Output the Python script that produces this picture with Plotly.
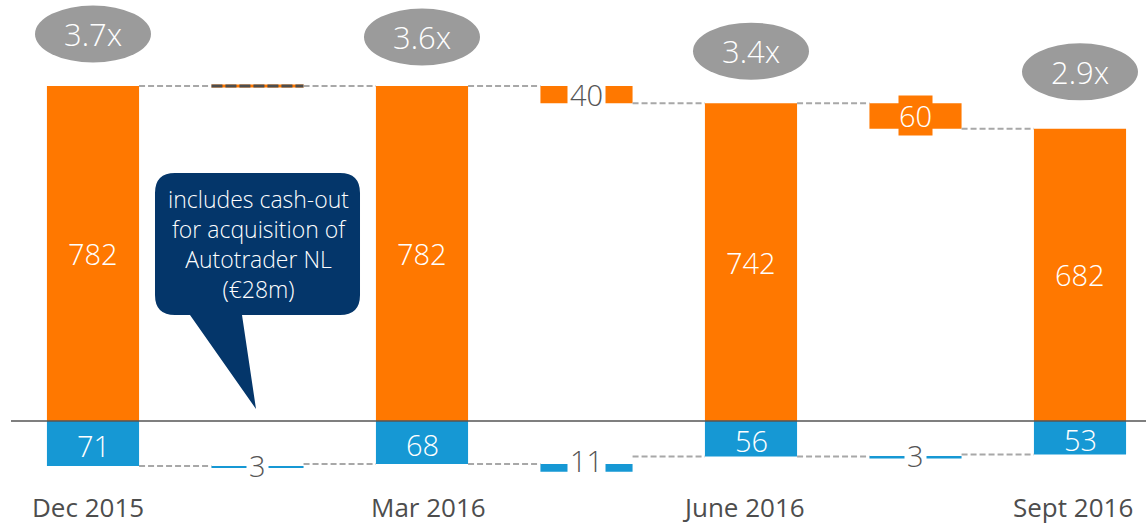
import plotly.graph_objects as go

# ---- data ----
periods = ["Dec 2015", "Mar 2016", "June 2016", "Sept 2016"]
orange_totals = [782, 782, 742, 682]
orange_change_labels = ["", "40", "60"]
blue_totals = [71, 68, 56, 53]
blue_change_labels = ["3", "11", "3"]
ratios = ["3.7x", "3.6x", "3.4x", "2.9x"]
callout_text = "includes cash-out<br>for acquisition of<br>Autotrader NL<br>(€28m)"

ORANGE = "#FF7800"
BLUE = "#1698D4"
NAVY = "#04366A"
GRAYE = "#9B9B9B"
DASH = "#A8A8A8"
TXT = "#555555"
FONT = "Open Sans Light, Open Sans"
FONT_REG = "Open Sans"

W, H = 1146, 525
BW = 0.56

tot_x = [0, 2, 4, 6]
chg_x = [1, 3, 5]
label_xshift = [-5, 6, -8, -7]
ellipse_dy = [52, 49, 52, 57]

fig = go.Figure()

# orange totals
fig.add_trace(go.Bar(x=tot_x, y=orange_totals, base=0, width=BW, marker_color=ORANGE,
                     marker_line_width=0, yaxis="y", hoverinfo="skip"))
# orange changes
o_base = [orange_totals[i + 1] for i in range(3)]
o_h = [orange_totals[i] - orange_totals[i + 1] for i in range(3)]
fig.add_trace(go.Bar(x=chg_x, y=o_h, base=o_base, width=BW, marker_color=ORANGE,
                     marker_line_width=0, yaxis="y", hoverinfo="skip"))
# blue totals (drawn downward)
fig.add_trace(go.Bar(x=tot_x, y=[-v for v in blue_totals], base=0, width=BW, marker_color=BLUE,
                     marker_line_width=0, yaxis="y2", hoverinfo="skip"))
# blue changes
b_h = [-(blue_totals[i] - blue_totals[i + 1]) for i in range(3)]
fig.add_trace(go.Bar(x=chg_x, y=b_h, base=[-blue_totals[i] for i in range(3)], width=BW,
                     marker_color=BLUE, marker_line_width=0, yaxis="y2", hoverinfo="skip"))

# zero-height orange change -> dashed marker line
for i, h in enumerate(o_h):
    if h == 0:
        xs = [chg_x[i] - BW / 2, chg_x[i] + BW / 2]
        ys = [orange_totals[i]] * 2
        fig.add_trace(go.Scatter(x=xs, y=ys, mode="lines", line=dict(color=ORANGE, width=3),
                                 yaxis="y", hoverinfo="skip", showlegend=False))
        fig.add_trace(go.Scatter(x=xs, y=ys, mode="lines",
                                 line=dict(color="#4D4D4D", width=3, dash="11px,3px"),
                                 yaxis="y", hoverinfo="skip", showlegend=False))

# connectors
def connectors(totals):
    xs, ys = [], []
    for j in range(6):
        lvl = totals[j // 2] if j % 2 == 0 else totals[j // 2 + 1]
        xs += [j + BW / 2, j + 1 - BW / 2, None]
        ys += [lvl, lvl, None]
    return xs, ys

cx, cy = connectors(orange_totals)
fig.add_trace(go.Scatter(x=cx, y=cy, mode="lines", line=dict(color=DASH, width=2, dash="6px,3px"),
                         yaxis="y", hoverinfo="skip", showlegend=False))
cx, cy = connectors(blue_totals)
fig.add_trace(go.Scatter(x=cx, y=[None if v is None else -v for v in cy], mode="lines",
                         line=dict(color=DASH, width=2, dash="6px,3px"),
                         yaxis="y2", hoverinfo="skip", showlegend=False))

annotations = []
shapes = []
LBL = 29

# total labels
for i in range(4):
    annotations.append(dict(x=tot_x[i], y=orange_totals[i] / 2, xref="x", yref="y",
                            text=str(orange_totals[i]), showarrow=False,
                            font=dict(color="white", size=LBL, family=FONT, weight=300)))
    annotations.append(dict(x=tot_x[i], y=-blue_totals[i] / 2, xref="x", yref="y2", yshift=-2,
                            text=str(blue_totals[i]), showarrow=False,
                            font=dict(color="white", size=LBL, family=FONT, weight=300)))

# change labels
for i, lab in enumerate(orange_change_labels):
    if not lab:
        continue
    mid = (orange_totals[i] + orange_totals[i + 1]) / 2
    if i == 1:
        annotations.append(dict(x=chg_x[i], y=mid, xref="x", yref="y", text=lab, showarrow=False,
                                font=dict(color=TXT, size=LBL, family=FONT, weight=300),
                                bgcolor="white", borderpad=2))
    else:
        annotations.append(dict(x=chg_x[i], y=mid, xref="x", yref="y", text=lab, showarrow=False,
                                font=dict(color="white", size=LBL, family=FONT, weight=300),
                                bgcolor=ORANGE, borderpad=0))
for i, lab in enumerate(blue_change_labels):
    mid = -(blue_totals[i] + blue_totals[i + 1]) / 2
    annotations.append(dict(x=chg_x[i], y=mid, xref="x", yref="y2", text=lab, showarrow=False,
                            font=dict(color=TXT, size=LBL, family=FONT, weight=300),
                            bgcolor="white", borderpad=2))

# ratio ellipses
for i, r in enumerate(ratios):
    d = ellipse_dy[i]
    shapes.append(dict(type="circle", xref="x", yref="y", xsizemode="pixel", ysizemode="pixel",
                       xanchor=tot_x[i], yanchor=orange_totals[i], x0=-58, x1=58,
                       y0=d - 28.5, y1=d + 28.5, fillcolor=GRAYE, line_width=0, layer="above"))
    annotations.append(dict(x=tot_x[i], y=orange_totals[i], xref="x", yref="y", yshift=d,
                            text=r, showarrow=False,
                            font=dict(color="white", size=31, family=FONT, weight=300)))

# category labels
for i, p in enumerate(periods):
    annotations.append(dict(x=tot_x[i], y=1 - 507 / H, xref="x", yref="paper",
                            xshift=label_xshift[i],
                            text=p, showarrow=False, xanchor="center", yanchor="middle",
                            font=dict(color="#4D4D4D", size=26, family=FONT_REG)))

# zero line
shapes.append(dict(type="line", xref="paper", yref="y", x0=11 / W, x1=1, y0=0, y1=0,
                   line=dict(color="#555555", width=1.5), layer="above"))

# callout bubble (pixel geometry -> paper)
def P(px, py):
    return f"{px / W:.5f},{1 - py / H:.5f}"

x0, x1, y0, y1, r = 155, 360, 173, 315, 20
path = (f"M {P(x0 + r, y0)} L {P(x1 - r, y0)} Q {P(x1, y0)} {P(x1, y0 + r)} "
        f"L {P(x1, y1 - r)} Q {P(x1, y1)} {P(x1 - r, y1)} "
        f"L {P(242, y1)} L {P(256, 409)} L {P(190, y1)} "
        f"L {P(x0 + r, y1)} Q {P(x0, y1)} {P(x0, y1 - r)} "
        f"L {P(x0, y0 + r)} Q {P(x0, y0)} {P(x0 + r, y0)} Z")
shapes.append(dict(type="path", xref="paper", yref="paper", path=path, fillcolor=NAVY,
                   line_width=0, layer="above"))
annotations.append(dict(x=258 / W, y=1 - 244 / H, xref="paper", yref="paper", text=callout_text,
                        showarrow=False, align="center", xanchor="center", yanchor="middle",
                        font=dict(color="white", size=23, family=FONT, weight=300)))

# axis ranges so both zero lines sit at pixel 421
ZP = 421
so = (ZP - 86) / 782.0
sb = 45 / 71.0
fig.update_layout(
    width=W, height=H, margin=dict(l=0, r=0, t=0, b=0),
    paper_bgcolor="white", plot_bgcolor="white", showlegend=False, barmode="overlay",
    xaxis=dict(range=[-93 / 164.5, (W - 93) / 164.5], visible=False),
    yaxis=dict(range=[-(H - ZP) / so, ZP / so], visible=False),
    yaxis2=dict(range=[-(H - ZP) / sb, ZP / sb], visible=False, overlaying="y"),
    annotations=annotations, shapes=shapes,
)

fig.write_html("out.html", config={"displayModeBar": False},
               post_script="document.body.style.margin='0';document.body.style.overflow='hidden';")
